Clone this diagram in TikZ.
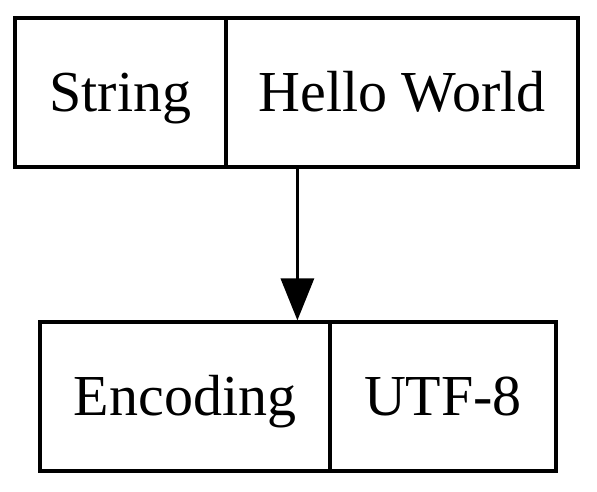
\documentclass[tikz,border=0pt]{standalone}
\usepackage{fontspec}
\setmainfont{Liberation Serif}
\usetikzlibrary{arrows.meta}
\begin{document}
\begin{tikzpicture}[x=1pt,y=1pt,
  cell/.style={draw=black,line width=3.2pt,inner sep=0pt,font=\fontsize{58}{62}\selectfont,minimum height=149pt,text height=42pt,text depth=4pt},
  link/.style={line width=3.2pt,-{Triangle[width=33pt,length=42pt]}}]
\useasboundingbox (0,0) rectangle (597,492);
\node[cell,minimum width=211pt] (tl) at (120.5,399.5) {String};
\node[cell,minimum width=352pt] (tr) at (402,399.5) {Hello World};
\node[cell,minimum width=290pt] (bl) at (185,95.5) {Encoding};
\node[cell,minimum width=226pt] (br) at (443,95.5) {UTF-8};
\draw[link] ([xshift=73pt]tr.south west) -- ([xshift=259pt]bl.north west);
\end{tikzpicture}
\end{document}
